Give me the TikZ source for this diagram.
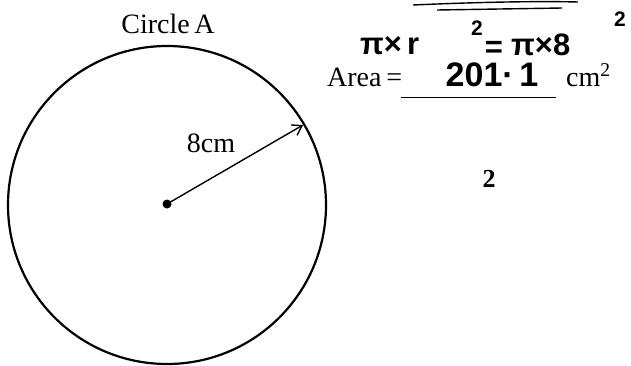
\documentclass[tikz,border=0pt]{standalone}
\usepackage{fontspec}
\setmainfont{Liberation Serif}
\newfontfamily\handfont{Liberation Sans}
\usetikzlibrary{arrows.meta}
\begin{document}
\begin{tikzpicture}[x=1pt,y=-1pt,
  lbl/.style={inner sep=0pt,font=\fontsize{28}{30}\selectfont},
  hand/.style={inner sep=0pt,font=\handfont\bfseries\fontsize{31}{33}\selectfont},
  handsup/.style={inner sep=0pt,font=\handfont\bfseries\fontsize{21}{22}\selectfont},
  pen/.style={line width=1.4pt}]
\useasboundingbox (0,0) rectangle (631,365);
% circle and radius
\node[circle,draw,line width=2.2pt,minimum size=318pt,inner sep=0pt] (circ) at (167,205) {};
\coordinate (ctr) at (167,204);
\coordinate (rim) at (303,125);
\fill (ctr) circle (4.5pt);
\draw[line width=1.4pt,-{Straight Barb[length=9pt,width=12pt,line width=1.4pt]}] (ctr) -- (rim);
\node[lbl,anchor=base] (title) at (168,33) {Circle\,A};
\node[lbl,anchor=base] (rad) at (211,152) {8cm};
% handwritten formula
\node[hand,anchor=west] (h1) at (360,46) {π×\,r};
\node[handsup] (h2) at (477,28) {2};
\node[hand] (h3) at (494,49) {=};
\node[hand,anchor=west] (h4) at (511,45) {π×8};
\node[handsup] (h5) at (620,19) {2};
\draw[pen] (413,5) .. controls (480,2) and (540,1) .. (578,2);
\draw[pen] (437,10) -- (562,8);
% area line
\node[lbl,anchor=base west] (area) at (327,86) {Area\,=};
\node[hand,font=\handfont\bfseries\fontsize{34}{36}\selectfont] (val) at (492,75) {201·\,1};
\draw[line width=0.9pt] (401,97) -- (556,97);
\node[lbl,anchor=base west] (unit) at (566,86) {cm\textsuperscript{2}};
\node[lbl,font=\bfseries\fontsize{26}{28}\selectfont] (mark) at (489,179) {2};
\end{tikzpicture}
\end{document}
